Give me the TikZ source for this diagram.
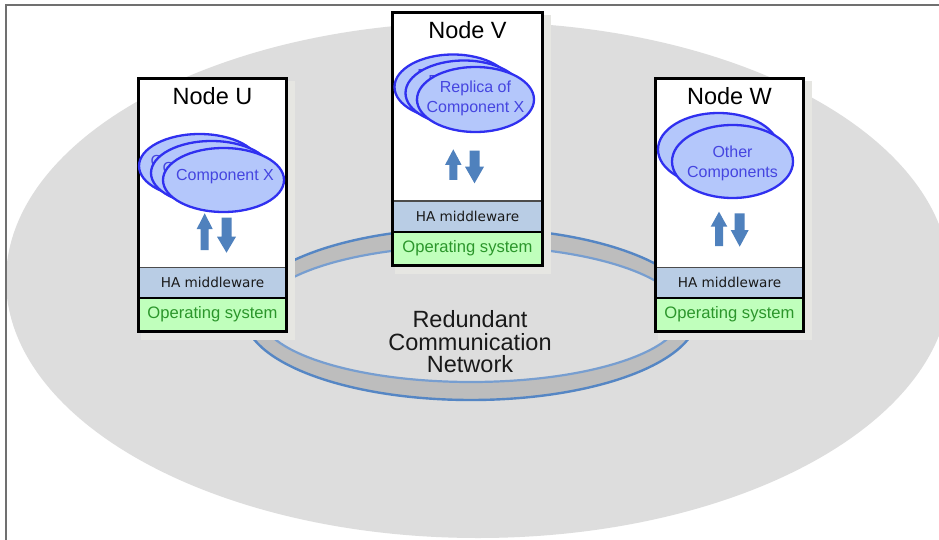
\documentclass[tikz,border=0pt]{standalone}
\usepackage{fontspec}
\setmainfont{Liberation Sans}
\newfontfamily\bandfont{DejaVu Sans}
\usetikzlibrary{shapes.geometric,calc}

\definecolor{framegray}{HTML}{707070}
\definecolor{cloudgray}{HTML}{DDDDDD}
\definecolor{ringband}{HTML}{BDBDBD}
\definecolor{ringedge}{HTML}{5586C4}
\definecolor{compfill}{HTML}{B4C7FB}
\definecolor{compedge}{HTML}{3030F0}
\definecolor{comptext}{HTML}{4545E0}
\definecolor{hafill}{HTML}{B9CDE5}
\definecolor{hatext}{HTML}{1A1A1A}
\definecolor{osfill}{HTML}{C0FFBC}
\definecolor{ostext}{HTML}{2B962B}
\definecolor{arrowblue}{HTML}{4F81BD}
\definecolor{glowfill}{HTML}{E6E6E2}

\tikzset{
  hostbody/.style={rectangle, draw=black, line width=3, fill=white,
    inner sep=0, outer sep=0, anchor=north west},
  hostframe/.style={draw=black, line width=3},
  hosttitle/.style={font=\fontsize{23.5}{26}\selectfont, text=black, inner sep=0},
  band/.style={rectangle, inner sep=0, outer sep=0, anchor=north west},
  haband/.style={band, fill=hafill, text=hatext, font=\bandfont\fontsize{13.6}{16}\selectfont},
  osband/.style={band, fill=osfill, text=ostext, font=\fontsize{16.6}{19}\selectfont},
  comp/.style={ellipse, draw=compedge, line width=2.3, fill=compfill, inner sep=0, outer sep=0},
  comptxt/.style={text=comptext, align=center, inner sep=0,
    font=\fontsize{16}{20}\selectfont},
  nettxt/.style={align=center, inner sep=0, text=black!90,
    font=\fontsize{23.5}{22.5}\selectfont},
}

% #1 name, #2 left, #3 top, #4 right, #5 title
\newcommand\hahost[5]{%
  \fill[glowfill] (#2+4,#3+4) rectangle (#4+7,#3+263);
  \node[hostbody, minimum width=#4-#2-3, minimum height=253] (#1) at (#2+1.5,#3+1.5) {};
  \node[haband, minimum width=#4-#2-6, minimum height=31] (#1-ha) at (#2+3,#3+190) {HA middleware};
  \node[osband, minimum width=#4-#2-6, minimum height=32] (#1-os) at (#2+3,#3+221) {Operating system};
  \draw[black!70, line width=1] (#1-ha.north west) -- (#1-ha.north east);
  \draw[black, line width=2.2] (#1-os.north west) -- (#1-os.north east);
  \draw[hostframe] (#1.north west) rectangle (#1.south east);
  \node[hosttitle] (#1-title) at ($(#1.north)+(0,18)$) {#5};
}

% block arrow: #1 centre x, #2 tip y, #3 head base y, #4 tail y, #5 head half width, #6 shaft half width
\newcommand\blockarrow[6]{%
  \fill[arrowblue] (#1,#2) -- (#1+#5,#3) -- (#1+#6,#3) -- (#1+#6,#4)
    -- (#1-#6,#4) -- (#1-#6,#3) -- (#1-#5,#3) -- cycle;
}

\begin{document}
\begin{tikzpicture}[x=1pt,y=-1pt]
  \useasboundingbox (0,0) rectangle (939,540);
  \clip (0,0) rectangle (939,540);
  \fill[white] (0,0) rectangle (939,540);

  % cluster area
  \fill[cloudgray] (478,280) ellipse [x radius=472, y radius=258];
  \draw[framegray, line width=1.5] (6,540) -- (6,5) -- (939,5);

  % redundant network ring
  \fill[ringband, even odd rule] (471,314) ellipse [x radius=227, y radius=86]
                                 (471,314) ellipse [x radius=211, y radius=68];
  \draw[ringedge, line width=2.4] (471,314) ellipse [x radius=227, y radius=86];
  \draw[ringedge!80, line width=2.2] (471,314) ellipse [x radius=211, y radius=68];
  \node[nettxt] (net) at (470,342) {Redundant\\Communication\\Network};

  % hosts
  \hahost{U}{137}{77}{288}{Node U}
  \hahost{V}{391}{11}{544}{Node V}
  \hahost{W}{654}{77}{805}{Node W}

  % components on node U
  \node[comp, minimum width=121, minimum height=64] (u3) at (199.5,166) {};
  \node[comptxt] (u3t) at (199.5,163) {Component X};
  \node[comp, minimum width=121, minimum height=64] (u2) at (211.5,173) {};
  \node[comptxt] (u2t) at (211.5,170) {Component X};
  \node[comp, minimum width=121, minimum height=64] (u1) at (223.5,180) {};
  \node[comptxt] (u1t) at (225,177) {Component X};

  % replicas on node V
  \node[comp, minimum width=117, minimum height=65] (v3) at (453,87) {};
  \node[comptxt] (v3t) at (453,86) {Replica of\\Component X};
  \node[comp, minimum width=117, minimum height=65] (v2) at (464,93) {};
  \node[comptxt] (v2t) at (464,92) {Replica of\\Component X};
  \node[comp, minimum width=117, minimum height=65] (v1) at (475.5,99.5) {};
  \node[comptxt] (v1t) at (475.5,98) {Replica of\\Component X};

  % other components on node W
  \node[comp, minimum width=121, minimum height=73] (w2) at (718.5,149.5) {};
  \node[comptxt] (w2t) at (718.5,148) {Other\\Components};
  \node[comp, minimum width=121, minimum height=73] (w1) at (732.5,161.5) {};
  \node[comptxt] (w1t) at (732.5,163) {Other\\Components};

  % up / down exchange arrows
  \blockarrow{204.7}{213.3}{229}{250}{8}{4}
  \blockarrow{226.5}{252.7}{236.7}{217.7}{9.5}{5}
  \blockarrow{453.3}{149.3}{165}{180}{8.3}{4}
  \blockarrow{474.5}{183.3}{166.7}{150.7}{9.5}{5}
  \blockarrow{719}{211.7}{226.7}{246}{8.3}{4}
  \blockarrow{739.7}{246.7}{230}{213.3}{9}{5}
\end{tikzpicture}
\end{document}
